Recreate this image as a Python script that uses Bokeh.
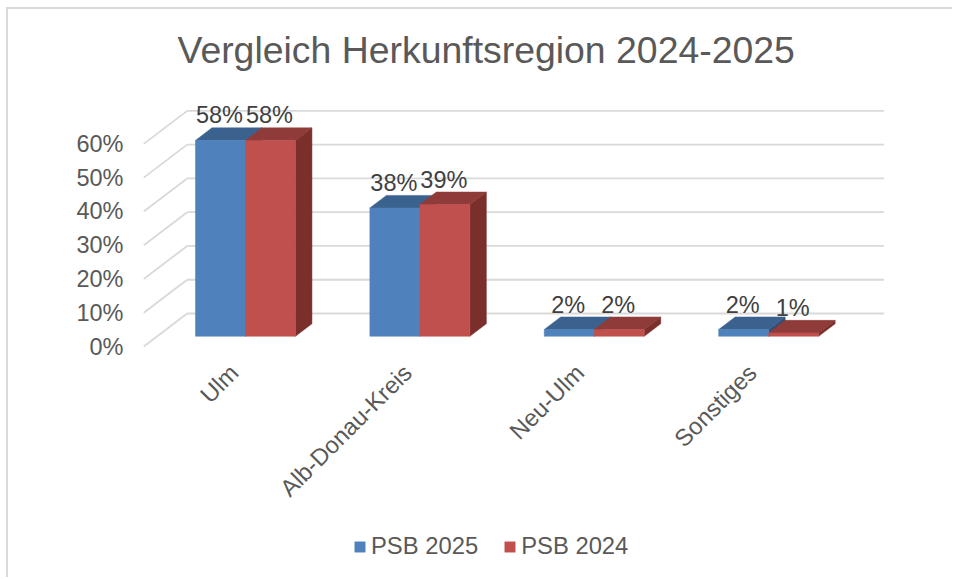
from math import pi
from bokeh.embed import file_html
from bokeh.resources import INLINE
from bokeh.plotting import figure
from bokeh.models import FixedTicker, Legend, LegendItem, PrintfTickFormatter, Range1d
from bokeh.core.properties import value

categories = ["Ulm", "Alb-Donau-Kreis", "Neu-Ulm", "Sonstiges"]
psb_2025 = [58, 38, 2, 2]
psb_2024 = [58, 39, 2, 1]
y_ticks = [0, 10, 20, 30, 40, 50, 60]
label_ticks = [0.012, 1.006, 1.994, 2.983]
title_text = "Vergleich Herkunftsregion 2024-2025"

# scale: pixels per unit
PX_X, PX_Y = 174.4, 3.377
MARGIN_X, MARGIN_Y, BORDER = 6, 7, 2
F_L, F_R, F_T, F_B = MARGIN_X + BORDER, 954, 75, 579     # plot frame on the page
W, H = F_R - F_L, F_B - MARGIN_Y - BORDER
X0_PX, Y0_PX = 231.5, 346            # page position of (0, 0)
DX, DY = 0.2489, 9.77                # oblique offset of full chart depth
D0, D1 = 0.31, 0.69                  # bar depth extents
BW = 50 / PX_X
FONT = "Liberation Sans"


def xd(px):
    return (px - X0_PX) / PX_X


def yd(px):
    return (Y0_PX - px) / PX_Y


p = figure(
    width=W, height=H, output_backend="svg", toolbar_location=None,
    x_range=Range1d(xd(F_L), xd(F_R)), y_range=Range1d(yd(F_B), yd(F_T)),
    min_border_left=0, min_border_right=0,
    min_border_top=F_T - MARGIN_Y - BORDER, min_border_bottom=0,
    margin=(MARGIN_Y, 0, 0, MARGIN_X),
    stylesheets=[f":host{{border-left:{BORDER}px solid #D9D9D9;border-top:{BORDER}px solid #D9D9D9;}}"],
)
p.outline_line_color = None
p.grid.visible = False
p.background_fill_color = "white"

p.title.text = title_text
p.title.align = "left"
p.title.offset = 177 - F_L
p.title.text_font = FONT
p.title.text_font_size = "37.4px"
p.title.text_font_style = "normal"
p.title.text_color = "#595959"

# axes
for ax in (p.xaxis[0], p.yaxis[0]):
    ax.axis_line_color = None
    ax.major_tick_line_color = None
    ax.minor_tick_line_color = None
    ax.major_label_text_font = FONT
    ax.major_label_text_color = "#595959"
p.yaxis.major_label_text_font_size = "23.5px"
p.xaxis.major_label_text_font_size = "23.8px"
p.yaxis.ticker = FixedTicker(ticks=y_ticks)
p.yaxis.formatter = PrintfTickFormatter(format="%d%%")
p.yaxis.major_label_standoff = 11
p.yaxis.fixed_location = xd(140)
p.xaxis.ticker = FixedTicker(ticks=label_ticks)
p.xaxis.major_label_overrides = dict(zip(label_ticks, categories))
p.xaxis.major_label_orientation = pi / 4
p.xaxis.major_label_standoff = 12
p.xaxis.fixed_location = yd(350)

# 3D wall grid
left, right = -0.506, len(categories) - 0.51
p.segment(x0=[left] * len(y_ticks), y0=y_ticks,
          x1=[left + DX] * len(y_ticks), y1=[v + DY for v in y_ticks],
          line_color="#D9D9D9", line_width=1.8)
p.segment(x0=[left + DX] * len(y_ticks), y0=[v + DY for v in y_ticks],
          x1=[right + DX] * len(y_ticks), y1=[v + DY for v in y_ticks],
          line_color="#D9D9D9", line_width=1.8)


def top_face(x0, x1, v):
    return ([x0 + D0 * DX, x1 + D0 * DX, x1 + D1 * DX, x0 + D1 * DX],
            [v + D0 * DY, v + D0 * DY, v + D1 * DY, v + D1 * DY])


def side_face(x1, v):
    return ([x1 + D0 * DX, x1 + D1 * DX, x1 + D1 * DX, x1 + D0 * DX],
            [D0 * DY, D1 * DY, v + D1 * DY, v + D0 * DY])


xs, ys, cols = [], [], []
for i in range(len(categories)):
    sx, sy = side_face(i, psb_2025[i])
    xs.append(sx); ys.append(sy); cols.append("#2F4F76")
    tx, ty = top_face(i - BW, i, psb_2025[i])
    xs.append(tx); ys.append(ty); cols.append("#3B618E")
    sx, sy = side_face(i + BW, psb_2024[i])
    xs.append(sx); ys.append(sy); cols.append("#7A2F2D")
    tx, ty = top_face(i, i + BW, psb_2024[i])
    xs.append(tx); ys.append(ty); cols.append("#8E3B39")
p.patches(xs, ys, fill_color=cols, line_color=cols, line_width=0.5)

idx = list(range(len(categories)))
blue = p.quad(left=[i - BW + D0 * DX for i in idx], right=[i + D0 * DX for i in idx],
              bottom=[D0 * DY] * 4, top=[v + D0 * DY for v in psb_2025],
              fill_color="#4F81BD", line_color="#4F81BD", line_width=0.5)
red = p.quad(left=[i + D0 * DX for i in idx], right=[i + BW + D0 * DX for i in idx],
             bottom=[D0 * DY] * 4, top=[v + D0 * DY for v in psb_2024],
             fill_color="#C0504D", line_color="#C0504D", line_width=0.5)

# data labels
for series, sign, in ((psb_2025, -1), (psb_2024, 1)):
    p.text(x=[i + sign * BW / 2 + D0 * DX for i in idx],
           y=[v + D0 * DY for v in series],
           text=[f"{v}%" for v in series],
           text_align="center", text_baseline="alphabetic",
           x_offset=-1, y_offset=-25,
           text_font=value(FONT), text_font_size="23.5px", text_color="#404040")

legend = Legend(items=[LegendItem(label="PSB 2025", renderers=[blue]),
                       LegendItem(label="PSB 2024", renderers=[red])],
                orientation="horizontal", location=(353 - F_L, F_B - 560),
                glyph_width=13, glyph_height=13, label_standoff=5, spacing=25,
                padding=0, margin=0, border_line_color=None,
                background_fill_alpha=0,
                label_text_font=FONT, label_text_font_size="23.8px",
                label_text_color="#595959")
p.add_layout(legend, "center")

open("out.html", "w").write(file_html(p, INLINE))
